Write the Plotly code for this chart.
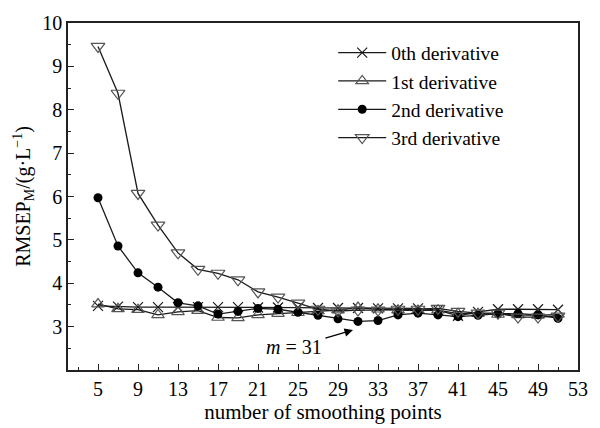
import plotly.graph_objects as go

x_points = [5, 7, 9, 11, 13, 15, 17, 19, 21, 23, 25, 27, 29, 31, 33, 35, 37, 39, 41, 43, 45, 47, 49, 51]
d0 = [3.48, 3.46, 3.45, 3.45, 3.45, 3.45, 3.45, 3.45, 3.44, 3.44, 3.44, 3.43, 3.43, 3.43, 3.42, 3.42, 3.42, 3.38, 3.25, 3.34, 3.40, 3.40, 3.40, 3.39]
d1 = [3.52, 3.41, 3.39, 3.27, 3.34, 3.37, 3.21, 3.20, 3.27, 3.30, 3.32, 3.36, 3.38, 3.44, 3.40, 3.38, 3.37, 3.38, 3.30, 3.30, 3.28, 3.27, 3.26, 3.28]
d2 = [5.97, 4.86, 4.24, 3.91, 3.55, 3.48, 3.29, 3.35, 3.42, 3.40, 3.33, 3.26, 3.18, 3.12, 3.14, 3.27, 3.31, 3.27, 3.23, 3.26, 3.30, 3.30, 3.27, 3.19]
d3 = [9.46, 8.38, 6.07, 5.34, 4.70, 4.32, 4.23, 4.08, 3.80, 3.68, 3.54, 3.40, 3.36, 3.38, 3.38, 3.40, 3.40, 3.42, 3.35, 3.31, 3.31, 3.22, 3.22, 3.24]
names = ["0th derivative", "1st derivative", "2nd derivative", "3rd derivative"]
x_tickvals = [5, 9, 13, 17, 21, 25, 29, 33, 37, 41, 45, 49, 53]
y_tickvals = [3, 4, 5, 6, 7, 8, 9, 10]

FONT = "Liberation Serif"
LINE = "#1a1a1a"

fig = go.Figure()
styles = [
    dict(symbol="x-thin-open", size=10, color=LINE, line=dict(width=1.2, color=LINE)),
    dict(symbol="triangle-up-open", size=11, color="#555555", line=dict(width=1.2, color="#555555")),
    dict(symbol="circle", size=9, color="black", line=dict(width=0, color="black")),
    dict(symbol="triangle-down-open", size=12, color="#555555", line=dict(width=1.2, color="#555555")),
]
for ys, nm, st in zip([d0, d1, d2, d3], names, styles):
    fig.add_trace(go.Scatter(
        x=x_points, y=ys, name=nm, mode="lines+markers",
        line=dict(color=LINE, width=1.3),
        marker=st,
    ))

fig.add_annotation(
    x=30.5, y=2.92, ax=24.6, ay=2.52, xref="x", yref="y", axref="x", ayref="y",
    text="<i>m</i> = 31", showarrow=True, arrowhead=2, arrowsize=1.3,
    arrowwidth=1.3, arrowcolor="black", standoff=0, startstandoff=2,
    font=dict(family=FONT, size=20, color="black"),
)

axis_common = dict(
    showline=True, linecolor="#222", linewidth=1.5, mirror=True,
    showgrid=False, zeroline=False, ticks="inside", tickcolor="#222",
    tickfont=dict(family=FONT, size=20, color="black"),
)
fig.update_xaxes(
    range=[2, 53], tickvals=x_tickvals, ticklen=6, tickwidth=1.3,
    minor=dict(tick0=3, dtick=2, ticks="inside", ticklen=3, tickcolor="#222", tickwidth=1.2),
    title=dict(text="number of smoothing points", font=dict(family=FONT, size=21, color="black"), standoff=2),
    **axis_common,
)
fig.update_yaxes(
    range=[2, 10], tickvals=y_tickvals, ticklen=6, tickwidth=1.3,
    minor=dict(tick0=2, dtick=0.5, ticks="inside", ticklen=3, tickcolor="#222", tickwidth=1.2),
    title=dict(text="RMSEP<sub>M</sub>/(g·L<sup>−1</sup>)", font=dict(family=FONT, size=20, color="black"), standoff=6),
    **axis_common,
)
fig.update_layout(
    width=600, height=428,
    margin=dict(l=68, r=14, t=18, b=55),
    paper_bgcolor="white", plot_bgcolor="white",
    font=dict(family=FONT, color="black"),
    legend=dict(
        x=0.52, y=0.97, xanchor="left", yanchor="top",
        font=dict(family=FONT, size=19.5, color="black"),
        bgcolor="rgba(0,0,0,0)", borderwidth=0, tracegroupgap=0, itemwidth=48,
    ),
)
fig.write_html("out.html")
